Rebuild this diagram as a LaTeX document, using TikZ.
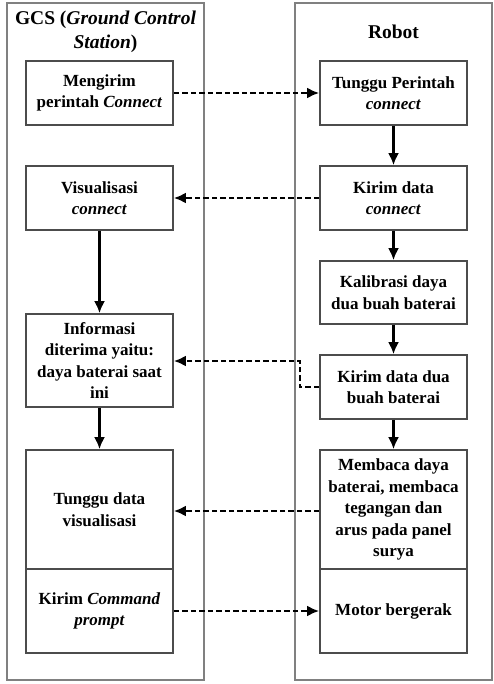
\documentclass[tikz,border=0pt]{standalone}
\usepackage{fontspec}
\setmainfont{Liberation Serif}
\usetikzlibrary{arrows.meta}
\begin{document}
\begin{tikzpicture}[x=1pt,y=-1pt,
  lane/.style={draw=black!50,line width=1.5pt},
  stepbox/.style={draw=black!70,line width=1.7pt,minimum width=147pt,inner sep=2pt,align=center,font=\bfseries\fontsize{17}{21.5}\selectfont},
  flow/.style={line width=2.2pt,-{Latex[length=12pt,width=11pt]}},
  msg/.style={line width=2.8pt,dash pattern=on 5.5pt off 3pt,-{Latex[length=12pt,width=11pt]}},
  title/.style={font=\bfseries\fontsize{19.5}{24}\selectfont,align=center}]
\useasboundingbox (0,0) rectangle (494,684);
\fill[white] (0,0) rectangle (494,684);
% lanes
\node[lane,minimum width=197pt,minimum height=677pt,inner sep=0pt] (gcs) at (105.5,341.5) {};
\node[lane,minimum width=197pt,minimum height=677pt,inner sep=0pt] (rob) at (393.5,341.5) {};
\node[title] (gcst) at (105.5,32) {GCS (\textit{Ground Control}\\\textit{Station})};
\node[title] (robt) at (393.5,32) {Robot};
% left boxes
\node[stepbox,minimum height=64pt] (l1) at (99.5,93) {Mengirim\\perintah \textit{Connect}};
\node[stepbox,minimum height=64pt] (l2) at (99.5,198) {Visualisasi\\\textit{connect}};
\node[stepbox,minimum height=93pt] (l3) at (99.5,360.5) {Informasi\\diterima yaitu:\\daya baterai saat\\ini};
\node[stepbox,minimum height=119pt] (l4) at (99.5,509.5) {Tunggu data\\visualisasi};
\node[stepbox,minimum height=84pt] (l5) at (99.5,611) {Kirim \textit{Command}\\\textit{prompt}};
% right boxes
\node[stepbox,minimum height=64pt] (r1) at (393.5,93) {Tunggu Perintah\\\textit{connect}};
\node[stepbox,minimum height=64pt] (r2) at (393.5,198) {Kirim data\\\textit{connect}};
\node[stepbox,minimum height=63pt] (r3) at (393.5,292.5) {Kalibrasi daya\\dua buah baterai};
\node[stepbox,minimum height=64pt] (r4) at (393.5,387) {Kirim data dua\\buah baterai};
\node[stepbox,minimum height=119pt] (r5) at (393.5,509.5) {Membaca daya\\baterai, membaca\\tegangan dan\\arus pada panel\\surya};
\node[stepbox,minimum height=84pt] (r6) at (393.5,611) {Motor bergerak};
% solid flows
\draw[flow] (r1) -- (r2);
\draw[flow] (r2) -- (r3);
\draw[flow] (r3) -- (r4);
\draw[flow] (r4) -- (r5);
\draw[flow] (l2) -- (l3);
\draw[flow] (l3) -- (l4);
% dashed messages
\draw[msg] (l1.east) -- (r1.west);
\draw[msg] (r2.west) -- (l2.east);
\coordinate (bend) at (300,361);
\draw[msg] (r4.west) -| (bend) -- (l3.east |- bend);
\coordinate (m5) at ([yshift=-1.5pt]r5.west);
\draw[msg] (m5) -- (m5 -| l4.east);
\draw[msg] (l5.east) -- (l5.east -| r6.west);
\end{tikzpicture}
\end{document}
